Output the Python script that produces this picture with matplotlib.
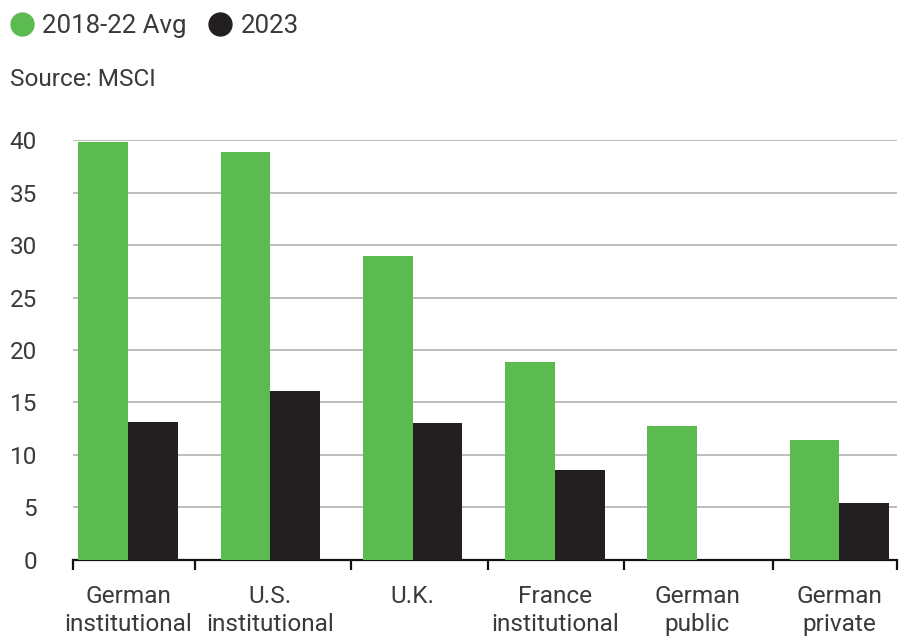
import numpy as np
import matplotlib
matplotlib.use("Agg")
import matplotlib.pyplot as plt
from matplotlib.lines import Line2D

plt.rcParams['font.family'] = ['Roboto', 'DejaVu Sans']

# investor groups and values
categories = ["German\ninstitutional", "U.S.\ninstitutional", "U.K.",
              "France\ninstitutional", "German\npublic", "German\nprivate"]
avg_2018_22 = [39.8, 38.9, 29.0, 18.9, 12.8, 11.4]
val_2023 = [13.1, 16.1, 13.0, 8.6, np.nan, 5.4]
series_names = ["2018-22 Avg", "2023"]

green = "#5BBA50"
black = "#231F20"
text_col = "#3a3a3a"

fig = plt.figure(figsize=(9.02, 6.37), dpi=100)
ax = fig.add_axes([0.0809, 0.1209, 0.9135, 0.6593])

x = np.arange(len(categories))
w = 0.35
ax.bar(x - w / 2, avg_2018_22, w, color=green, zorder=3)
ax.bar(x + w / 2, val_2023, w, color=black, zorder=3)

ax.set_xlim(-0.387, 5.404)
ax.set_ylim(0, 40)
ax.set_yticks(np.arange(0, 41, 5))
for y in range(5, 41, 5):
    ax.axhline(y, color="#ababab", lw=1.1, zorder=1)

for s in ["top", "right", "left"]:
    ax.spines[s].set_visible(False)
ax.spines["bottom"].set_linewidth(1.6)
ax.spines["bottom"].set_color("#111111")

# group separators on the category axis
ax.set_xticks([-0.387, 0.471, 1.567, 2.53, 3.486, 4.533, 5.404])
ax.set_xticks(x, minor=True)
ax.set_xticklabels([], minor=False)
ax.set_xticklabels(categories, minor=True, fontsize=17.6, color=text_col,
                   linespacing=1.27)
ax.tick_params(axis="x", which="major", length=7, width=1.6, color="#111111")
ax.tick_params(axis="x", which="minor", length=0, pad=18)
ax.tick_params(axis="y", length=0, pad=26, labelsize=17.5, labelcolor=text_col)

handles = [Line2D([], [], ls="", marker="o", ms=16.5, color=c) for c in (green, black)]
fig.legend(handles, series_names, loc="upper left", bbox_to_anchor=(-0.006, 1.0),
           ncol=2, frameon=False, borderaxespad=0.2, borderpad=0.35,
           handlelength=1.0, handletextpad=0.3, columnspacing=0.8,
           prop={"size": 18.6}, labelcolor=text_col)

fig.text(0.011, 0.865, "Source: MSCI", fontsize=17.6, color=text_col, va="baseline")

fig.savefig("out.png", dpi=100)
